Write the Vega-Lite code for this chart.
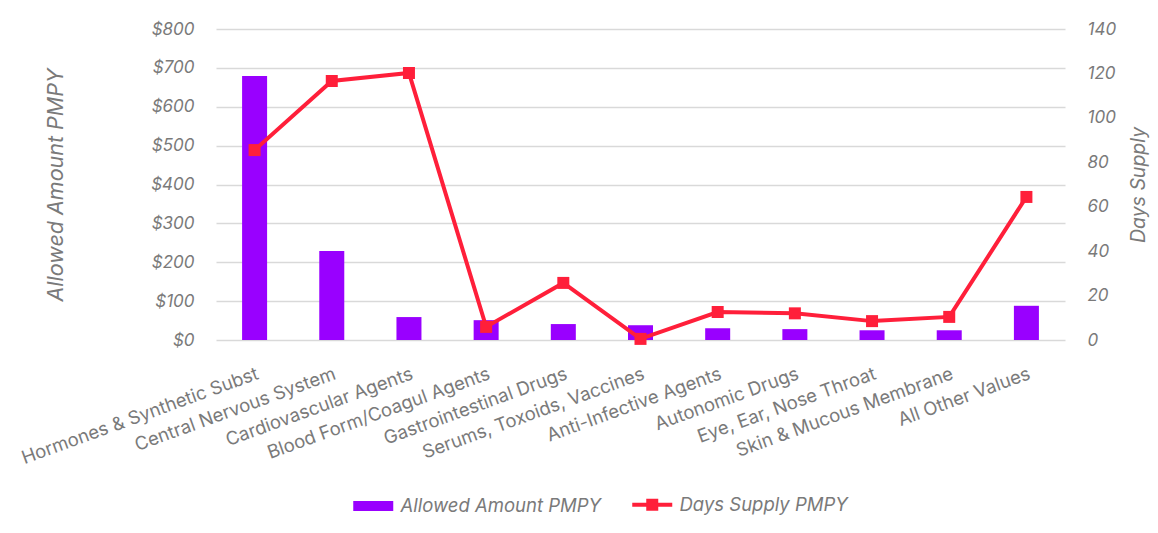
{
  "$schema": "https://vega.github.io/schema/vega-lite/v6.json",
  "width": 849,
  "height": 311,
  "autosize": {"type": "none"},
  "padding": {"left": 216, "top": 29, "right": 93, "bottom": 193},
  "background": "white",
  "config": {
    "font": "Inter",
    "view": {"stroke": null},
    "axis": {
      "labelColor": "#7a7a7a",
      "titleColor": "#7a7a7a",
      "labelFontSize": 17,
      "titleFontSize": 19.5,
      "titleFontWeight": "normal",
      "titleFontStyle": "italic",
      "ticks": false,
      "domain": false,
      "labelOverlap": false,
      "gridColor": "#d9d9d9",
      "gridWidth": 1.5
    }
  },
  "data": {
    "values": [
      {"category": "Hormones & Synthetic Subst", "allowed": 679, "days": 85.5},
      {"category": "Central Nervous System", "allowed": 229, "days": 116.6},
      {"category": "Cardiovascular Agents", "allowed": 59, "days": 120.2},
      {"category": "Blood Form/Coagul Agents", "allowed": 51, "days": 5.9},
      {"category": "Gastrointestinal Drugs", "allowed": 41, "days": 25.7},
      {"category": "Serums, Toxoids, Vaccines", "allowed": 38, "days": 0.5},
      {"category": "Anti-Infective Agents", "allowed": 30, "days": 12.6},
      {"category": "Autonomic Drugs", "allowed": 28, "days": 12.0},
      {"category": "Eye, Ear, Nose Throat", "allowed": 25, "days": 8.5},
      {"category": "Skin & Mucous Membrane", "allowed": 25, "days": 10.4},
      {"category": "All Other Values", "allowed": 88, "days": 64.4}
    ]
  },
  "encoding": {
    "x": {
      "field": "category",
      "type": "nominal",
      "sort": null,
      "scale": {"paddingInner": 0.676, "paddingOuter": 0.338},
      "axis": {
        "title": null,
        "labelAngle": -20,
        "labelAlign": "right",
        "labelBaseline": "top",
        "labelPadding": 24,
        "labelFontSize": 18.5,
        "labelLimit": 400,
        "grid": false
      }
    }
  },
  "layer": [
    {
      "mark": {"type": "bar"},
      "encoding": {
        "y": {
          "field": "allowed",
          "type": "quantitative",
          "scale": {"domain": [0, 800]},
          "axis": {
            "title": "Allowed Amount PMPY",
            "titleFontSize": 21.5,
            "format": "$,.0f",
            "values": [0, 100, 200, 300, 400, 500, 600, 700, 800],
            "labelFontStyle": "italic",
            "labelPadding": 22,
            "titlePadding": 83,
            "grid": true
          }
        },
        "color": {
          "datum": "Allowed Amount PMPY",
          "type": "nominal",
          "scale": {
            "domain": ["Allowed Amount PMPY", "Days Supply PMPY"],
            "range": ["#9900FF", "#FF1F3A"]
          },
          "legend": {
            "title": null,
            "orient": "none",
            "direction": "horizontal",
            "legendX": 148,
            "legendY": 466,
            "padding": 0,
            "symbolSize": 1600,
            "symbolStrokeWidth": 0,
            "labelOffset": 18,
            "columnPadding": 22,
            "labelFontSize": 18.5,
            "labelFontStyle": "italic",
            "labelColor": "#7a7a7a",
            "labelLimit": 400,
            "encode": {
              "symbols": {
                "update": {
                  "shape": {"signal": "datum.value === 'Allowed Amount PMPY' ? 'M-1,-0.25H1V0.25H-1Z' : 'M-1,0H1M-0.2,-0.2H0.2V0.2H-0.2Z'"},
                  "size": {"value": 1600},
                  "fill": {"scale": "color", "field": "value"},
                  "stroke": {"scale": "color", "field": "value"},
                  "strokeWidth": {"signal": "datum.value === 'Allowed Amount PMPY' ? 0 : 4"},
                  "opacity": {"value": 1},
                  "fillOpacity": {"value": 1}
                }
              }
            }
          }
        }
      }
    },
    {
      "mark": {
        "type": "line",
        "strokeWidth": 4,
        "point": {"filled": true, "shape": "square", "size": 144, "opacity": 1}
      },
      "encoding": {
        "y": {
          "field": "days",
          "type": "quantitative",
          "scale": {"domain": [0, 140]},
          "axis": {
            "orient": "right",
            "title": "Days Supply",
            "values": [0, 20, 40, 60, 80, 100, 120, 140],
            "labelFontStyle": "italic",
            "labelPadding": 22,
            "titleAngle": 270,
            "titleBaseline": "top",
            "titlePadding": 14,
            "grid": false
          }
        },
        "color": {"datum": "Days Supply PMPY", "type": "nominal"}
      }
    }
  ],
  "resolve": {"scale": {"y": "independent"}}
}
